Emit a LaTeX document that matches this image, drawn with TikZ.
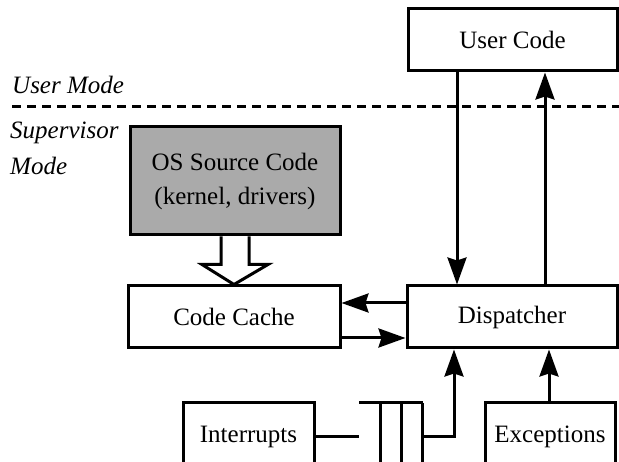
\documentclass[tikz,border=0pt]{standalone}
\usepackage{fontspec}
\setmainfont{Liberation Serif}
\usetikzlibrary{arrows.meta}
\definecolor{osgray}{RGB}{170,170,170}
\begin{document}
\begin{tikzpicture}[x=1pt,y=-1pt,
  box/.style={draw,line width=3pt,rectangle,inner sep=0pt,align=center,font=\fontsize{25}{34}\selectfont},
  arr/.style={line width=3pt,-{Stealth[length=27pt,width=19pt,inset=3pt]}},
  conn/.style={line width=3pt},
  lbl/.style={anchor=west,inner sep=0pt,font=\fontsize{25}{30}\selectfont\itshape}]
\useasboundingbox (0,0) rectangle (619,462);
% boxes
\node[box,minimum width=209pt,minimum height=62pt] (uc) at (512.5,40) {User Code};
\node[box,fill=osgray,minimum width=210pt,minimum height=108pt] (os) at (235,181) {OS Source Code\\(kernel, drivers)};
\node[box,minimum width=212pt,minimum height=62pt] (cc) at (234,317) {Code Cache};
\node[box,minimum width=210pt,minimum height=62pt] (disp) at (512,317) {Dispatcher};
\node[box,minimum width=131pt,minimum height=68pt] (int) at (248.5,437) {\raisebox{4pt}{Interrupts}};
\node[box,minimum width=130pt,minimum height=68pt] (exc) at (550,437) {\raisebox{4pt}{Exceptions}};
% mode labels and divider
\node[lbl] (um) at (12,85) {User Mode};
\node[lbl] (sv) at (10,133) {Supervisor};
\node[lbl] (md) at (10,166) {Mode};
\coordinate (dl) at (12,107);
\coordinate (dr) at (619,107);
\draw[line width=3pt,dash pattern=on 9pt off 6pt] (dl) -- (dr);
% user code <-> dispatcher
\draw[arr] ([xshift=-55.5pt]uc.south) -- ([xshift=-55pt]disp.north);
\draw[arr] ([xshift=33pt]disp.north) -- ([xshift=32.5pt]uc.south);
% dispatcher <-> code cache
\draw[arr] ([yshift=14pt]disp.west) -- ([yshift=14pt]cc.east);
\draw[arr] ([yshift=-21pt]cc.east) -- ([yshift=-21pt]disp.west);
% open arrow from OS source to code cache
\draw[line width=3pt,fill=white,line join=miter]
  ([xshift=-14pt]os.south) -- ++(0,28) -- ++(-19,0) -- (cc.north)
  -- ([xshift=33pt,yshift=-28pt]os.south) -- ++(-19,0) -- ([xshift=14pt]os.south);
% queue
\coordinate (qtl) at (359,403);
\coordinate (qtr) at (423,403);
\coordinate (qbl) at (359,463);
\coordinate (qbr) at (423,463);
\coordinate (qin) at (359,437);
\coordinate (qout) at (422,437);
\coordinate (qv1t) at (380,403);
\coordinate (qv1b) at (380,463);
\coordinate (qv2t) at (401,403);
\coordinate (qv2b) at (401,463);
\coordinate (qv3t) at (422,403);
\coordinate (qv3b) at (422,463);
\coordinate (qbend) at (454,437);
\draw[conn] (qtl) -- (qtr);
\draw[conn] (qbl) -- (qbr);
\draw[conn] (qv1t) -- (qv1b);
\draw[conn] (qv2t) -- (qv2b);
\draw[conn] (qv3t) -- (qv3b);
\draw[conn] (int.east) -- (qin);
\draw[arr] (qout) -- (qbend) -- ([xshift=-58pt]disp.south);
% exceptions -> dispatcher
\draw[arr] ([xshift=-1pt]exc.north) -- ([xshift=37pt]disp.south);
\end{tikzpicture}
\end{document}
